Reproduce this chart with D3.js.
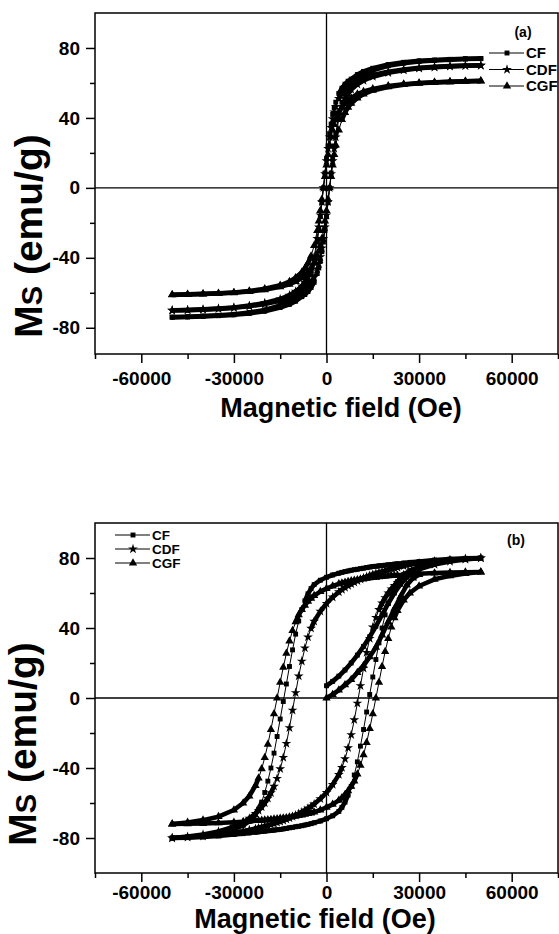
<!DOCTYPE html>
<html>
<head>
<meta charset="utf-8">
<script src="https://cdn.jsdelivr.net/npm/d3@7"></script>
<style>
  body { margin: 0; background: #fff; }
  text { font-family: "Liberation Sans", Arial, sans-serif; font-weight: bold; }
</style>
</head>
<body>
<svg id="chart" width="559" height="934"></svg>
<script>
// Axis ticks
const xMajor = [-60000, -30000, 0, 30000, 60000];
const xMinor = [-75000, -45000, -15000, 15000, 45000, 75000];
const yMajor = [-80, -40, 0, 40, 80];
const yMinor = [-60, -20, 20, 60];
const seriesNames = ["CF", "CDF", "CGF"];

// Panel (a): field values (Oe) and magnetisation (emu/g)
const fieldA = [-50000, -45000, -40000, -35000, -30000, -25000, -20000, -15000, -12000, -10000, -8000, -7000, -6000, -5000, -4000, -3000, -2500, -2000, -1500, -1000, -500, 0, 500, 1000, 1500, 2000, 2500, 3000, 4000, 5000, 6000, 7000, 8000, 10000, 12000, 15000, 20000, 25000, 30000, 35000, 40000, 45000, 50000];
const cfDownA = [-73.9, -73.7, -73.3, -72.9, -72.3, -71.3, -69.8, -67.2, -64.8, -62.2, -59.3, -57, -54, -49, -42, -31, -24, -16.5, -8.5, 0, 8.5, 16.5, 24, 31, 36.5, 42, 45.8, 49, 54, 57, 59.3, 61, 62.2, 64.8, 66.6, 68.4, 70.5, 71.8, 72.6, 73.1, 73.5, 73.8, 74];
const cfUpA = [-74, -73.8, -73.5, -73.1, -72.6, -71.8, -70.5, -68.4, -66.6, -64.8, -62.2, -61, -59.3, -57, -54, -49, -45.8, -42, -36.5, -31, -24, -16.5, -8.5, 0, 8.5, 16.5, 24, 31, 42, 49, 54, 57, 59.3, 62.2, 64.8, 67.2, 69.8, 71.3, 72.3, 72.9, 73.3, 73.7, 73.9];
const cdfDownA = [-70, -69.8, -69.5, -69, -68.4, -67.3, -65.8, -63.6, -61.4, -59.2, -56.2, -54, -51, -46.5, -39.5, -29, -22.5, -15.5, -8, 0, 8, 15.5, 22.5, 29, 34.5, 39.5, 43.3, 46.5, 51, 54, 56.2, 57.9, 59.2, 61.4, 63, 64.6, 66.4, 67.7, 68.6, 69.2, 69.6, 69.9, 70.1];
const cdfUpA = [-70.1, -69.9, -69.6, -69.2, -68.6, -67.7, -66.4, -64.6, -63, -61.4, -59.2, -57.9, -56.2, -54, -51, -46.5, -43.3, -39.5, -34.5, -29, -22.5, -15.5, -8, 0, 8, 15.5, 22.5, 29, 39.5, 46.5, 51, 54, 56.2, 59.2, 61.4, 63.6, 65.8, 67.3, 68.4, 69, 69.5, 69.8, 70];
const cgfDownA = [-61.1, -60.9, -60.6, -60.3, -59.8, -59, -57.7, -55.7, -53.6, -51.4, -48.3, -46, -43, -39, -33, -24.5, -19, -13, -6.5, 0, 6.5, 13, 19, 24.5, 29, 33, 36.2, 39, 43, 46, 48.3, 50, 51.4, 53.6, 55.1, 56.6, 58.3, 59.3, 60, 60.4, 60.7, 61, 61.2];
const cgfUpA = [-61.2, -61, -60.7, -60.4, -60, -59.3, -58.3, -56.6, -55.1, -53.6, -51.4, -50, -48.3, -46, -43, -39, -36.2, -33, -29, -24.5, -19, -13, -6.5, 0, 6.5, 13, 19, 24.5, 33, 39, 43, 46, 48.3, 51.4, 53.6, 55.7, 57.7, 59, 59.8, 60.3, 60.6, 60.9, 61.1];

// Panel (b)
const fieldB = [-50000, -45000, -40000, -35000, -30000, -27000, -25000, -23000, -22000, -21000, -20000, -19000, -18000, -17000, -16000, -15000, -14000, -13000, -12000, -11000, -10000, -9000, -8000, -7000, -6000, -5000, -4000, -2000, 0, 2000, 4000, 5000, 6000, 7000, 8000, 9000, 10000, 11000, 12000, 13000, 14000, 15000, 16000, 17000, 18000, 19000, 20000, 21000, 22000, 23000, 25000, 27000, 30000, 35000, 40000, 45000, 50000];
const cfDownB = [-80, -79.4, -78.6, -77.3, -75, -72.8, -70.5, -66.5, -63.5, -59.5, -54, -47.5, -40, -31.5, -22, -12, -2, 8, 18, 27.5, 36.5, 44, 50.5, 55.5, 59.5, 62.5, 64.8, 67.3, 69, 70.3, 71.3, 71.8, 72.2, 72.6, 73, 73.3, 73.6, 73.9, 74.2, 74.5, 74.8, 75.1, 75.3, 75.5, 75.7, 75.9, 76.1, 76.3, 76.5, 76.7, 77.1, 77.5, 78, 78.8, 79.4, 79.8, 80];
const cfUpB = [-80, -79.8, -79.4, -78.8, -78, -77.5, -77.1, -76.7, -76.5, -76.3, -76.1, -75.9, -75.7, -75.5, -75.3, -75.1, -74.8, -74.5, -74.2, -73.9, -73.6, -73.3, -73, -72.6, -72.2, -71.8, -71.3, -70.3, -69, -67.3, -64.8, -62.5, -59.5, -55.5, -50.5, -44, -36.5, -27.5, -18, -8, 2, 12, 22, 31.5, 40, 47.5, 54, 59.5, 63.5, 66.5, 70.5, 72.8, 75, 77.3, 78.6, 79.4, 80];
const cdfDownB = [-80, -79.2, -78, -76.3, -73.5, -71, -68.8, -66, -64.3, -62.3, -60, -57.3, -54.2, -50.5, -46, -40.5, -34, -26, -17, -7, 3, 12.5, 21, 28.5, 34.8, 39.8, 43.8, 49.5, 54, 57.6, 60.6, 61.9, 63.1, 64.2, 65.2, 66.1, 67, 67.8, 68.6, 69.3, 70, 70.6, 71.2, 71.8, 72.3, 72.8, 73.3, 73.8, 74.2, 74.6, 75.4, 76.1, 77, 78.2, 79, 79.6, 80];
const cdfUpB = [-80, -79.6, -79, -78.2, -77, -76.1, -75.4, -74.6, -74.2, -73.8, -73.3, -72.8, -72.3, -71.8, -71.2, -70.6, -70, -69.3, -68.6, -67.8, -67, -66.1, -65.2, -64.2, -63.1, -61.9, -60.6, -57.6, -54, -49.5, -43.8, -39.8, -34.8, -28.5, -21, -12.5, -3, 7, 17, 26, 34, 40.5, 46, 50.5, 54.2, 57.3, 60, 62.3, 64.3, 66, 68.8, 71, 73.5, 76.3, 78, 79.2, 80];
const cgfDownB = [-72, -71.1, -69.8, -67.8, -64, -60, -56, -50, -45.8, -40.5, -34, -26.5, -18, -9, 0, 9, 17.5, 25.5, 32.5, 38.5, 43.5, 47.5, 50.5, 53, 55.2, 57, 58.5, 60.8, 62.5, 64, 65.2, 65.7, 66.1, 66.5, 66.9, 67.2, 67.5, 67.8, 68.1, 68.4, 68.6, 68.8, 69, 69.2, 69.4, 69.6, 69.8, 69.9, 70, 70.1, 70.4, 70.7, 71, 71.4, 71.7, 71.9, 72];
const cgfUpB = [-72, -71.9, -71.7, -71.4, -71, -70.7, -70.4, -70.1, -70, -69.9, -69.8, -69.6, -69.4, -69.2, -69, -68.8, -68.6, -68.4, -68.1, -67.8, -67.5, -67.2, -66.9, -66.5, -66.1, -65.7, -65.2, -64, -62.5, -60.8, -58.5, -57, -55.2, -53, -50.5, -47.5, -43.5, -38.5, -32.5, -25.5, -17.5, -9, 0, 9, 18, 26.5, 34, 40.5, 45.8, 50, 56, 60, 64, 67.8, 69.8, 71.1, 72];
// initial magnetisation curves
const virginFieldB = [0, 2000, 4000, 6000, 8000, 10000, 12000, 14000, 16000, 18000, 20000, 22000, 24000, 26000, 28000, 30000];
const cfVirginB = [7, 9.5, 12.5, 16, 20, 24.5, 29.5, 35, 41, 47.5, 54, 60, 65, 69, 72, 74];
const cgfVirginB = [0, 2, 4.5, 7.5, 10.5, 14.5, 18.5, 23.5, 29, 36, 43.5, 51, 58, 64.5, 68.5, 70.5];

const symbols = [d3.symbolSquare, d3.symbolStar, d3.symbolTriangle];
const symbolSize = [24, 30, 30];

const svg = d3.select("#chart");

function drawBranch(g, x, y, field, values, k) {
    const pts = field.map((h, i) => [x(h), y(values[i])]);
    // steep stretches: thin joining line, flat stretches: dense markers look like a band
    g.append("g").selectAll("line")
        .data(d3.pairs(pts))
        .join("line")
        .attr("x1", d => d[0][0]).attr("y1", d => d[0][1])
        .attr("x2", d => d[1][0]).attr("y2", d => d[1][1])
        .attr("stroke", "#000")
        .attr("stroke-linecap", "round")
        .attr("stroke-width", d => Math.abs(d[1][1] - d[0][1]) > 2.5 * Math.abs(d[1][0] - d[0][0]) ? 1 : 4.6);
    g.append("g").selectAll("path")
        .data(pts)
        .join("path")
        .attr("d", d3.symbol(symbols[k], symbolSize[k]))
        .attr("transform", d => `translate(${d[0]},${d[1]})`)
        .attr("fill", "#000");
}

function drawPanel(p) {
    const x = d3.scaleLinear().domain([-75000, 75000]).range([95, 558]);
    const y = d3.scaleLinear().domain(p.yDomain).range([p.bottom, p.top]);
    const g = svg.append("g");

    g.append("line")
        .attr("x1", x(0)).attr("x2", x(0)).attr("y1", p.top).attr("y2", p.bottom)
        .attr("stroke", "#000").attr("stroke-width", 1.3);
    g.append("line")
        .attr("x1", x.range()[0]).attr("x2", x.range()[1]).attr("y1", y(0)).attr("y2", y(0))
        .attr("stroke", "#000").attr("stroke-width", 1.3);

    p.curves.forEach(c => drawBranch(g, x, y, c.field, c.values, c.k));

    g.append("rect")
        .attr("x", x.range()[0]).attr("y", p.top)
        .attr("width", x.range()[1] - x.range()[0]).attr("height", p.bottom - p.top)
        .attr("fill", "none").attr("stroke", "#000").attr("stroke-width", 1.5);

    // axes
    const fmt = d => String(d);
    const xa = g.append("g").attr("transform", `translate(0,${p.bottom})`)
        .call(d3.axisBottom(x).tickValues(xMajor).tickSize(9).tickPadding(p.xPad).tickFormat(fmt));
    const xm = g.append("g").attr("transform", `translate(0,${p.bottom})`)
        .call(d3.axisBottom(x).tickValues(xMinor).tickSize(5).tickFormat(""));
    const ya = g.append("g").attr("transform", `translate(${x.range()[0]},0)`)
        .call(d3.axisLeft(y).tickValues(yMajor).tickSize(9).tickPadding(6).tickFormat(fmt));
    const ym = g.append("g").attr("transform", `translate(${x.range()[0]},0)`)
        .call(d3.axisLeft(y).tickValues(yMinor).tickSize(5).tickFormat(""));
    [xa, xm, ya, ym].forEach(a => {
        a.select(".domain").remove();
        a.selectAll("line").attr("stroke-width", 1.5);
        a.attr("font-family", null).attr("font-size", null);
        a.selectAll("text").style("font-size", "19px").attr("fill", "#000");
    });

    // axis titles
    g.append("text")
        .attr("x", p.xTitle[0]).attr("y", p.xTitle[1])
        .attr("text-anchor", "middle")
        .style("font-size", "27px")
        .text("Magnetic field (Oe)");
    const yt = g.append("text")
        .attr("transform", `translate(${p.yTitle[0]},${p.yTitle[1]}) rotate(-90)`)
        .attr("text-anchor", "middle")
        .style("font-size", "39px");
    yt.append("tspan").text("M");
    yt.append("tspan").style("font-size", "29px").text("S");
    yt.append("tspan").text(" (emu/g)");

    // panel tag
    g.append("text")
        .attr("x", p.tag[0]).attr("y", p.tag[1])
        .attr("text-anchor", "middle")
        .style("font-size", "14px")
        .text(p.tagText);

    // legend
    const lg = g.append("g");
    seriesNames.forEach((name, i) => {
        const ly = p.legend.y[i];
        lg.append("line")
            .attr("x1", p.legend.x).attr("x2", p.legend.x + 35)
            .attr("y1", ly).attr("y2", ly)
            .attr("stroke", "#000").attr("stroke-width", 1);
        lg.append("path")
            .attr("d", d3.symbol(symbols[i], symbolSize[i]))
            .attr("transform", `translate(${p.legend.x + 18},${ly})`)
            .attr("fill", "#000");
        lg.append("text")
            .attr("x", p.legend.x + 37).attr("y", ly)
            .attr("dy", "0.36em")
            .style("font-size", p.legend.font)
            .text(name);
    });
}

drawPanel({
    top: 13, bottom: 354, yDomain: [-95, 100], xPad: 9,
    xTitle: [341, 417], yTitle: [42, 236],
    tag: [523, 37], tagText: "(a)",
    legend: { x: 489, y: [53, 69.5, 86], font: "15px" },
    curves: [
        { field: fieldA, values: cfDownA, k: 0 },
        { field: fieldA, values: cfUpA, k: 0 },
        { field: fieldA, values: cdfDownA, k: 1 },
        { field: fieldA, values: cdfUpA, k: 1 },
        { field: fieldA, values: cgfDownA, k: 2 },
        { field: fieldA, values: cgfUpA, k: 2 }
    ]
});

drawPanel({
    top: 523, bottom: 873, yDomain: [-100, 100], xPad: 4,
    xTitle: [315, 928], yTitle: [36, 744],
    tag: [516, 545], tagText: "(b)",
    legend: { x: 115, y: [535, 549, 563], font: "13.5px" },
    curves: [
        { field: fieldB, values: cfDownB, k: 0 },
        { field: fieldB, values: cfUpB, k: 0 },
        { field: virginFieldB, values: cfVirginB, k: 0 },
        { field: fieldB, values: cdfDownB, k: 1 },
        { field: fieldB, values: cdfUpB, k: 1 },
        { field: fieldB, values: cgfDownB, k: 2 },
        { field: fieldB, values: cgfUpB, k: 2 },
        { field: virginFieldB, values: cgfVirginB, k: 2 }
    ]
});
</script>
</body>
</html>
